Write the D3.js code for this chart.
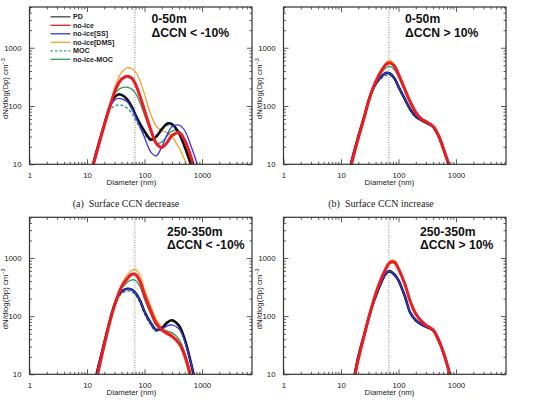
<!DOCTYPE html>
<html>
<head>
<meta charset="utf-8">
<script src="https://cdn.jsdelivr.net/npm/d3@7"></script>
<style>
  html, body { margin: 0; padding: 0; background: #fff; }
  svg { display: block; }
</style>
</head>
<body>
<svg id="chart" width="539" height="405"></svg>
<script>
// ---------------- data ----------------
const seriesNames = ["PD", "no-ice", "no-ice[SS]", "no-ice[DMS]", "MOC", "no-ice-MOC"];
const diam = [12, 15, 20, 25, 30, 35, 40, 50, 60, 70, 85, 100, 130, 160, 200, 250, 300, 400, 500, 650, 800, 1000];
const xTickLabels = ["1", "10", "100", "1000"];
const yTickLabels = ["10", "100", "1000"];
const refDiameter = 68;

// (a) 0-50m, dCCN < -10%
const aPD       = [8, 18, 48, 98, 140, 158, 155, 130, 98, 70, 48, 37, 26.5, 30, 40, 50, 49, 34, 20, 9.5, 4, 1.5];
const aNoIce    = [7.5, 17, 47, 98, 170, 240, 290, 325, 300, 235, 140, 85, 38, 23, 19.5, 24, 31, 35, 26, 13, 6, 2];
const aSS       = [8, 18, 48, 95, 125, 135, 133, 118, 90, 65, 42, 29, 16, 14, 20, 33, 44, 47, 38, 20, 11, 4];
const aDMS      = [7.5, 17, 47, 100, 200, 300, 380, 450, 440, 380, 260, 160, 70, 45, 38, 35, 30, 19, 12, 5, 2, 1];
const aMOC      = [8, 18, 47, 85, 100, 104, 103, 92, 75, 58, 42, 33, 25, 29, 39, 47, 46, 32, 19, 9, 4, 1.5];
const aNoIceMOC = [7.5, 17, 47, 98, 160, 190, 205, 210, 195, 165, 110, 70, 35, 23, 24, 31, 37, 37, 26, 12, 5, 2];

// (b) 0-50m, dCCN > 10%
const bPD       = [4, 10.5, 30, 63, 120, 185, 240, 320, 370, 365, 300, 215, 130, 88, 66, 57, 52, 44, 30, 15, 8, 2.5];
const bNoIce    = [3.5, 9.5, 28, 60, 118, 190, 260, 400, 510, 555, 480, 350, 190, 118, 78, 60, 54, 45, 31, 15, 8, 2.5];
const bSS       = [4, 10.5, 30, 63, 120, 185, 240, 320, 370, 365, 300, 215, 130, 88, 66, 57, 52, 44, 30, 15, 8, 2.5];
const bDMS      = [3.5, 9.5, 28, 60, 120, 195, 270, 420, 545, 605, 520, 380, 205, 125, 80, 61, 55, 45, 31, 15, 8, 2.5];
const bMOC      = [4, 10.5, 30, 62, 115, 175, 230, 295, 335, 340, 285, 205, 125, 85, 64, 57, 52, 44, 30, 15, 8, 2.5];
const bNoIceMOC = [3.5, 9.5, 28, 60, 118, 185, 250, 365, 450, 478, 420, 315, 175, 110, 76, 60, 55, 46, 31, 15, 8, 2.5];

// (c) 250-350m, dCCN < -10%
const cPD       = [4, 11, 35, 85, 155, 225, 265, 295, 285, 250, 180, 120, 75, 58, 62, 78, 85, 68, 40, 15, 6, 2];
const cNoIce    = [3, 9, 32, 80, 150, 235, 320, 440, 525, 520, 380, 230, 120, 75, 58, 50, 45, 34, 21, 8.5, 3, 1];
const cSS       = [4, 11, 35, 85, 155, 225, 265, 295, 285, 250, 180, 120, 75, 57, 60, 68, 71, 60, 37, 15, 6, 2];
const cDMS      = [3, 9, 32, 80, 155, 250, 350, 510, 610, 630, 480, 290, 145, 88, 64, 55, 48, 33, 19, 6, 2, 1];
const cMOC      = [4, 11, 35, 83, 145, 205, 245, 270, 262, 230, 165, 110, 70, 55, 60, 76, 83, 66, 39, 14, 5, 2];
const cNoIceMOC = [3.5, 10, 33, 82, 152, 235, 300, 380, 420, 410, 310, 195, 105, 70, 58, 55, 52, 40, 24, 9, 3, 1];

// (d) 250-350m, dCCN > 10%
const dPD       = [2, 5, 20, 46, 90, 150, 220, 380, 540, 595, 520, 410, 215, 115, 85, 72, 66, 57, 38, 19, 9, 3];
const dNoIce    = [1.5, 4.5, 18, 44, 90, 155, 240, 440, 650, 830, 850, 650, 350, 180, 110, 82, 70, 58, 39, 19, 9, 3];
const dSS       = [2, 5, 20, 46, 90, 150, 220, 380, 540, 595, 520, 410, 215, 115, 85, 72, 66, 57, 38, 19, 9, 3];
const dDMS      = [1.5, 4.5, 18, 44, 92, 160, 250, 460, 690, 880, 910, 700, 370, 185, 112, 83, 71, 58, 39, 19, 9, 3];
const dMOC      = [2, 5, 20, 45, 88, 145, 210, 360, 510, 570, 500, 395, 208, 112, 83, 71, 65, 56, 37, 19, 9, 3];
const dNoIceMOC = [1.5, 4.5, 18, 44, 90, 155, 235, 425, 620, 790, 810, 630, 345, 172, 105, 80, 69, 57, 38, 19, 9, 3];

// ---------------- drawing ----------------
const styles = {
  "PD":          {color: "#111111", width: 2.6, dash: null},
  "no-ice":      {color: "#ec1c24", width: 3.0, dash: null},
  "no-ice[SS]":  {color: "#3a33e6", width: 1.3, dash: null},
  "no-ice[DMS]": {color: "#f7a12c", width: 1.3, dash: null},
  "MOC":         {color: "#3aa58e", width: 1.6, dash: "3,2"},
  "no-ice-MOC":  {color: "#2f9e5c", width: 1.3, dash: null}
};
const drawOrder = ["no-ice[DMS]", "no-ice-MOC", "MOC", "PD", "no-ice[SS]", "no-ice"];

const panels = [
  {id: "a", left: 29.5, top: 7, width: 222.5, height: 157.3,
   series: {"PD": aPD, "no-ice": aNoIce, "no-ice[SS]": aSS, "no-ice[DMS]": aDMS, "MOC": aMOC, "no-ice-MOC": aNoIceMOC},
   t1: "0-50m", t2: "ΔCCN < -10%", tx: 151.5, ty1: 16, ty2: 29.5, legend: true},
  {id: "b", left: 283.5, top: 7, width: 222.5, height: 157.3,
   series: {"PD": bPD, "no-ice": bNoIce, "no-ice[SS]": bSS, "no-ice[DMS]": bDMS, "MOC": bMOC, "no-ice-MOC": bNoIceMOC},
   t1: "0-50m", t2: "ΔCCN > 10%", tx: 405, ty1: 16, ty2: 29.5, legend: false},
  {id: "c", left: 29.5, top: 217.3, width: 222.5, height: 157,
   series: {"PD": cPD, "no-ice": cNoIce, "no-ice[SS]": cSS, "no-ice[DMS]": cDMS, "MOC": cMOC, "no-ice-MOC": cNoIceMOC},
   t1: "250-350m", t2: "ΔCCN < -10%", tx: 167, ty1: 18.5, ty2: 32, legend: false},
  {id: "d", left: 283.5, top: 217.3, width: 222.5, height: 157,
   series: {"PD": dPD, "no-ice": dNoIce, "no-ice[SS]": dSS, "no-ice[DMS]": dDMS, "MOC": dMOC, "no-ice-MOC": dNoIceMOC},
   t1: "250-350m", t2: "ΔCCN > 10%", tx: 420, ty1: 18.5, ty2: 32, legend: false}
];

const svg = d3.select("#chart");
const sans = "'Liberation Sans', Arial, Helvetica, sans-serif";
const serif = "'Liberation Serif', 'Times New Roman', serif";

const xMajor = [1, 10, 100, 1000];
const xMinor = [];
[1, 10, 100, 1000].forEach(dec => { for (let k = 2; k <= 9; k++) { const v = dec * k; if (v <= 7400) xMinor.push(v); } });
const yMajor = [10, 100, 1000];
const yMinor = [];
[10, 100, 1000].forEach(dec => { for (let k = 2; k <= 9; k++) { const v = dec * k; if (v <= 5000) yMinor.push(v); } });

panels.forEach(p => {
  const g = svg.append("g").attr("transform", `translate(${p.left},${p.top})`);
  const x = d3.scaleLog().domain([1, Math.pow(10, 3.87)]).range([0, p.width]);
  const y = d3.scaleLog().domain([10, 5000]).range([p.height, 0]);

  g.append("clipPath").attr("id", "clip-" + p.id)
    .append("rect").attr("x", 0).attr("y", 0).attr("width", p.width).attr("height", p.height);

  // reference dotted line
  g.append("line")
    .attr("x1", x(refDiameter)).attr("x2", x(refDiameter))
    .attr("y1", 0).attr("y2", p.height)
    .attr("stroke", "#777").attr("stroke-width", 0.9).attr("stroke-dasharray", "1,1.5");

  // curves
  const line = d3.line()
    .x(d => x(d[0])).y(d => y(d[1]))
    .curve(d3.curveCatmullRom.alpha(0.5));
  const cg = g.append("g").attr("clip-path", `url(#clip-${p.id})`);
  drawOrder.forEach(name => {
    const vals = p.series[name];
    const st = styles[name];
    cg.append("path")
      .datum(diam.map((d, i) => [d, vals[i]]))
      .attr("d", line)
      .attr("fill", "none")
      .attr("stroke", st.color)
      .attr("stroke-width", st.width)
      .attr("stroke-linejoin", "round")
      .attr("stroke-dasharray", st.dash);
  });

  // axes (inward ticks on all sides)
  const fmtX = d => xTickLabels[xMajor.indexOf(d)];
  const fmtY = d => yTickLabels[yMajor.indexOf(d)];
  const styleAxis = sel => {
    sel.select(".domain").remove();
    sel.selectAll(".tick line").attr("stroke", "#333").attr("stroke-width", 0.8);
    sel.selectAll("text").attr("font-family", sans).attr("font-size", 7.8).attr("fill", "#222");
  };
  g.append("g").attr("transform", `translate(0,${p.height})`)
    .call(d3.axisBottom(x).tickValues(xMajor).tickSize(-5).tickPadding(8).tickFormat(fmtX)).call(styleAxis);
  g.append("g").attr("transform", `translate(0,${p.height})`)
    .call(d3.axisBottom(x).tickValues(xMinor).tickSize(-2.5).tickFormat("")).call(styleAxis);
  g.append("g")
    .call(d3.axisTop(x).tickValues(xMajor).tickSize(-5).tickFormat("")).call(styleAxis);
  g.append("g")
    .call(d3.axisTop(x).tickValues(xMinor).tickSize(-2.5).tickFormat("")).call(styleAxis);
  g.append("g")
    .call(d3.axisLeft(y).tickValues(yMajor).tickSize(-5).tickPadding(8).tickFormat(fmtY)).call(styleAxis);
  g.append("g")
    .call(d3.axisLeft(y).tickValues(yMinor).tickSize(-2.5).tickFormat("")).call(styleAxis);
  g.append("g").attr("transform", `translate(${p.width},0)`)
    .call(d3.axisRight(y).tickValues(yMajor).tickSize(-5).tickFormat("")).call(styleAxis);
  g.append("g").attr("transform", `translate(${p.width},0)`)
    .call(d3.axisRight(y).tickValues(yMinor).tickSize(-2.5).tickFormat("")).call(styleAxis);

  // frame
  g.append("rect").attr("x", 0).attr("y", 0).attr("width", p.width).attr("height", p.height)
    .attr("fill", "none").attr("stroke", "#333").attr("stroke-width", 1.2);

  // axis titles
  g.append("text")
    .attr("x", p.id === "a" || p.id === "c" ? 102 : 106)
    .attr("y", p.height + 21)
    .attr("text-anchor", "middle")
    .attr("font-family", sans).attr("font-size", 7.8).attr("fill", "#222")
    .text("Diameter (nm)");
  const yl = g.append("text")
    .attr("transform", `translate(-21.5,${p.height / 2 + 3}) rotate(-90)`)
    .attr("text-anchor", "middle")
    .attr("font-family", sans).attr("font-size", 7.8).attr("fill", "#222");
  yl.append("tspan").text("dN/dlog(Dp) cm");
  yl.append("tspan").attr("dy", -3).attr("font-size", 5.5).text("−3");

  // annotation
  svg.append("text").attr("x", p.tx).attr("y", p.top + p.ty1)
    .attr("font-family", sans).attr("font-weight", "bold").attr("font-size", 12.2).attr("fill", "#111")
    .text(p.t1);
  svg.append("text").attr("x", p.tx).attr("y", p.top + p.ty2)
    .attr("font-family", sans).attr("font-weight", "bold").attr("font-size", 12.2).attr("fill", "#111")
    .text(p.t2);

  // legend
  if (p.legend) {
    const lg = svg.append("g");
    seriesNames.forEach((name, i) => {
      const st = styles[name];
      const yy = 16.8 + i * 8.5;
      lg.append("line").attr("x1", 50.5).attr("x2", 70.5).attr("y1", yy).attr("y2", yy)
        .attr("stroke", name === "PD" ? "#444" : st.color).attr("stroke-width", 1.3)
        .attr("stroke-dasharray", st.dash ? "2.5,2" : null);
      lg.append("text").attr("x", 73).attr("y", yy + 2.5)
        .attr("font-family", sans).attr("font-weight", "bold").attr("font-size", 7.1).attr("fill", "#222")
        .text(name);
    });
  }
});

// captions
svg.append("text").attr("x", 126).attr("y", 206.5).attr("text-anchor", "middle")
  .attr("font-family", serif).attr("font-size", 10).attr("fill", "#222")
  .attr("xml:space", "preserve").text("(a)  Surface CCN decrease");
svg.append("text").attr("x", 381).attr("y", 206.5).attr("text-anchor", "middle")
  .attr("font-family", serif).attr("font-size", 10).attr("fill", "#222")
  .attr("xml:space", "preserve").text("(b)  Surface CCN increase");
</script>
</body>
</html>
